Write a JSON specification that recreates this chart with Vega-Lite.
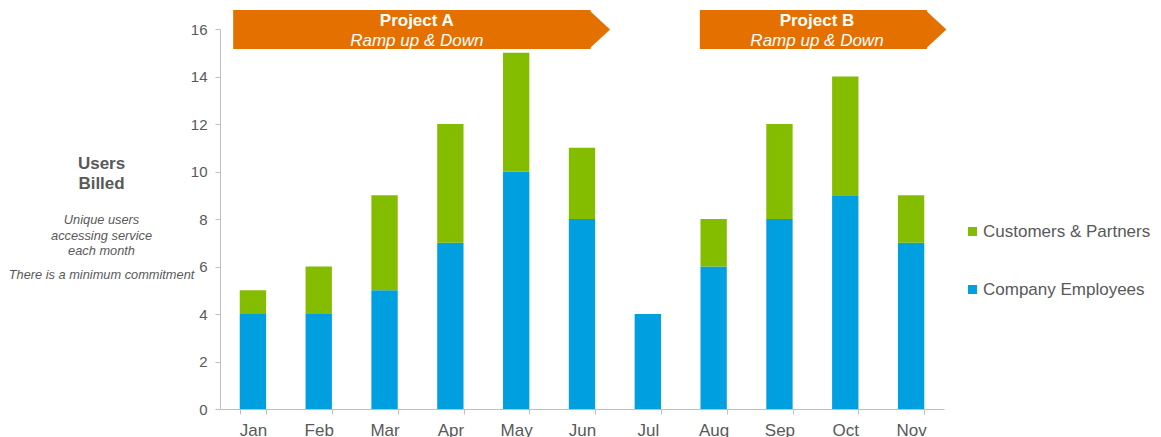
{
  "$schema": "https://vega.github.io/schema/vega-lite/v6.json",
  "width": 724,
  "height": 380,
  "autosize": {"type": "none"},
  "padding": {"left": 220, "top": 29, "right": 217, "bottom": 28},
  "config": {
    "view": {"stroke": null},
    "font": "Liberation Sans",
    "text": {"font": "Liberation Sans"}
  },
  "datasets": {
    "users": [
      {"month": "Jan", "series": "Company Employees", "users": 4},
      {"month": "Jan", "series": "Customers & Partners", "users": 1},
      {"month": "Feb", "series": "Company Employees", "users": 4},
      {"month": "Feb", "series": "Customers & Partners", "users": 2},
      {"month": "Mar", "series": "Company Employees", "users": 5},
      {"month": "Mar", "series": "Customers & Partners", "users": 4},
      {"month": "Apr", "series": "Company Employees", "users": 7},
      {"month": "Apr", "series": "Customers & Partners", "users": 5},
      {"month": "May", "series": "Company Employees", "users": 10},
      {"month": "May", "series": "Customers & Partners", "users": 5},
      {"month": "Jun", "series": "Company Employees", "users": 8},
      {"month": "Jun", "series": "Customers & Partners", "users": 3},
      {"month": "Jul", "series": "Company Employees", "users": 4},
      {"month": "Jul", "series": "Customers & Partners", "users": 0},
      {"month": "Aug", "series": "Company Employees", "users": 6},
      {"month": "Aug", "series": "Customers & Partners", "users": 2},
      {"month": "Sep", "series": "Company Employees", "users": 8},
      {"month": "Sep", "series": "Customers & Partners", "users": 4},
      {"month": "Oct", "series": "Company Employees", "users": 9},
      {"month": "Oct", "series": "Customers & Partners", "users": 5},
      {"month": "Nov", "series": "Company Employees", "users": 7},
      {"month": "Nov", "series": "Customers & Partners", "users": 2}
    ],
    "banners": [
      {"project": "Project A", "subtitle": "Ramp up & Down", "start": 0.2, "end": 5.63, "center": 2.99},
      {"project": "Project B", "subtitle": "Ramp up & Down", "start": 7.29, "end": 10.74, "center": 9.07}
    ]
  },
  "layer": [
    {
      "data": {"name": "users"},
      "mark": {"type": "bar"},
      "encoding": {
        "x": {
          "field": "month", "type": "nominal",
          "sort": ["Jan", "Feb", "Mar", "Apr", "May", "Jun", "Jul", "Aug", "Sep", "Oct", "Nov"],
          "scale": {"paddingInner": 0.6, "paddingOuter": 0.3},
          "axis": {
            "title": null, "labelAngle": 0, "tickBand": "extent",
            "labelFontSize": 17, "labelColor": "#595959", "labelFont": "Liberation Sans",
            "domainColor": "#BFBFBF", "tickColor": "#BFBFBF", "tickSize": 5, "labelPadding": 8
          }
        },
        "y": {
          "field": "users", "type": "quantitative", "stack": "zero",
          "scale": {"domain": [0, 16], "nice": false},
          "axis": {
            "title": null, "grid": false, "values": [0, 2, 4, 6, 8, 10, 12, 14, 16],
            "labelFontSize": 15, "labelColor": "#595959", "labelFont": "Liberation Sans",
            "domainColor": "#BFBFBF", "tickColor": "#BFBFBF", "tickSize": 5, "labelPadding": 8
          }
        },
        "color": {
          "field": "series", "type": "nominal",
          "scale": {"domain": ["Customers & Partners", "Company Employees"], "range": ["#84BD00", "#009FDF"]},
          "legend": {
            "title": null, "orient": "none", "legendX": 744, "legendY": 194,
            "symbolType": "square", "symbolSize": 81, "symbolStrokeWidth": 0,
            "labelFontSize": 17, "labelColor": "#595959", "labelFont": "Liberation Sans",
            "labelLimit": 400, "rowPadding": 40, "labelOffset": 2, "padding": 0
          }
        },
        "order": {"field": "series", "sort": "ascending"}
      }
    },
    {
      "data": {"name": "banners"},
      "mark": {"type": "rect", "color": "#E47000"},
      "encoding": {
        "x": {"field": "start", "type": "quantitative", "scale": {"domain": [0, 11], "nice": false, "zero": false}, "axis": null},
        "x2": {"field": "end"},
        "y": {"datum": 16.8, "type": "quantitative"},
        "y2": {"datum": 15.16}
      }
    },
    {
      "data": {"name": "banners"},
      "mark": {"type": "point", "shape": "M-0.08,-1L1,0L-0.08,1Z", "size": 1521, "filled": true, "opacity": 1, "color": "#E47000", "strokeWidth": 0},
      "encoding": {
        "x": {"field": "end", "type": "quantitative", "scale": {"domain": [0, 11], "nice": false, "zero": false}, "axis": null},
        "y": {"datum": 15.98, "type": "quantitative"}
      }
    },
    {
      "data": {"name": "banners"},
      "mark": {"type": "text", "fontSize": 17, "fontWeight": "bold", "color": "white", "align": "center", "baseline": "alphabetic"},
      "encoding": {
        "x": {"field": "center", "type": "quantitative", "scale": {"domain": [0, 11], "nice": false, "zero": false}, "axis": null},
        "y": {"datum": 16.13, "type": "quantitative"},
        "text": {"field": "project"}
      }
    },
    {
      "data": {"name": "banners"},
      "mark": {"type": "text", "fontSize": 17, "fontStyle": "italic", "color": "white", "align": "center", "baseline": "alphabetic"},
      "encoding": {
        "x": {"field": "center", "type": "quantitative", "scale": {"domain": [0, 11], "nice": false, "zero": false}, "axis": null},
        "y": {"datum": 15.3, "type": "quantitative"},
        "text": {"field": "subtitle"}
      }
    },
    {
      "data": {"values": [{"note": "Users Billed"}]},
      "mark": {"type": "text", "text": ["Users", "Billed"], "lineHeight": 20, "fontSize": 17, "fontWeight": "bold", "color": "#595959", "align": "center", "baseline": "alphabetic"},
      "encoding": {
        "x": {"datum": -1.8, "type": "quantitative", "scale": {"domain": [0, 11], "nice": false, "zero": false}, "axis": null},
        "y": {"datum": 10.105, "type": "quantitative"}
      }
    },
    {
      "data": {"values": [{"note": "Unique users"}]},
      "mark": {"type": "text", "text": ["Unique users", "accessing service", "each month"], "lineHeight": 15.6, "fontSize": 12.8, "fontStyle": "italic", "color": "#595959", "align": "center", "baseline": "alphabetic"},
      "encoding": {
        "x": {"datum": -1.8, "type": "quantitative", "scale": {"domain": [0, 11], "nice": false, "zero": false}, "axis": null},
        "y": {"datum": 7.789, "type": "quantitative"}
      }
    },
    {
      "data": {"values": [{"note": "There is a minimum commitment"}]},
      "mark": {"type": "text", "text": "There is a minimum commitment", "fontSize": 12.8, "fontStyle": "italic", "color": "#595959", "align": "center", "baseline": "alphabetic"},
      "encoding": {
        "x": {"datum": -1.8, "type": "quantitative", "scale": {"domain": [0, 11], "nice": false, "zero": false}, "axis": null},
        "y": {"datum": 5.46, "type": "quantitative"}
      }
    }
  ],
  "resolve": {"scale": {"x": "independent"}}
}
